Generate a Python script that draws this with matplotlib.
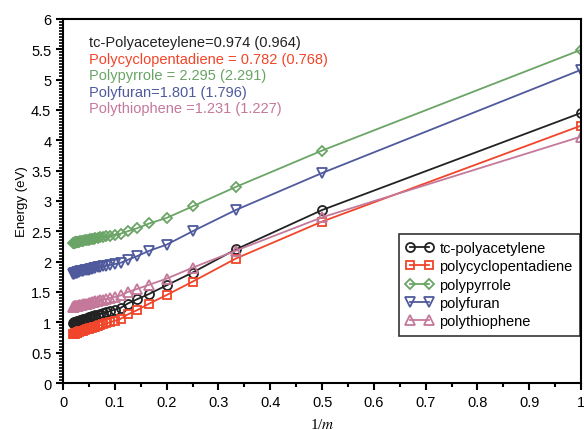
import numpy as np
import matplotlib
matplotlib.use("Agg")
import matplotlib.pyplot as plt
from matplotlib.ticker import MultipleLocator, FuncFormatter

plt.rcParams['font.family'] = ['Liberation Sans', 'DejaVu Sans']
plt.rcParams['mathtext.fontset'] = 'stix'

# chain length m (x axis is 1/m)
m = [1, 2, 3, 4, 5, 6, 7, 8, 9, 10, 11, 12, 13, 14, 15, 16, 17, 18, 19, 20,
     22, 24, 26, 28, 30, 32, 34, 36, 38, 40, 42, 44, 46, 48, 50]

acetylene = [4.45, 2.85, 2.20, 1.82, 1.61, 1.47, 1.38, 1.31, 1.238, 1.209,
             1.186, 1.166, 1.150, 1.137, 1.125, 1.115, 1.106, 1.098, 1.091, 1.080,
             1.069, 1.060, 1.051, 1.043, 1.036, 1.029, 1.023, 1.018, 1.013, 1.009,
             1.005, 1.001, 0.998, 0.995, 0.992]
cyclopentadiene = [4.24, 2.66, 2.05, 1.67, 1.45, 1.31, 1.20, 1.13, 1.057, 1.026,
                   1.002, 0.982, 0.965, 0.952, 0.939, 0.929, 0.919, 0.911, 0.902, 0.893,
                   0.882, 0.873, 0.863, 0.856, 0.849, 0.843, 0.837, 0.831, 0.827, 0.823,
                   0.819, 0.815, 0.813, 0.810, 0.807]
pyrrole = [5.49, 3.83, 3.23, 2.91, 2.72, 2.63, 2.55, 2.50, 2.461, 2.443,
           2.429, 2.416, 2.406, 2.398, 2.390, 2.384, 2.378, 2.372, 2.367, 2.362,
           2.356, 2.350, 2.344, 2.339, 2.335, 2.331, 2.327, 2.325, 2.322, 2.319,
           2.317, 2.315, 2.313, 2.311, 2.309]
furan = [5.16, 3.46, 2.85, 2.50, 2.28, 2.18, 2.09, 2.03, 1.981, 1.961,
         1.945, 1.932, 1.921, 1.912, 1.904, 1.897, 1.891, 1.885, 1.878, 1.870,
         1.863, 1.857, 1.850, 1.843, 1.838, 1.831, 1.827, 1.823, 1.818, 1.815,
         1.812, 1.808, 1.805, 1.803, 1.800]
thiophene = [4.06, 2.73, 2.18, 1.90, 1.72, 1.62, 1.55, 1.50, 1.442, 1.419,
             1.401, 1.385, 1.372, 1.361, 1.352, 1.344, 1.337, 1.330, 1.324, 1.318,
             1.310, 1.303, 1.296, 1.290, 1.286, 1.281, 1.277, 1.274, 1.272, 1.268,
             1.266, 1.263, 1.262, 1.260, 1.257]

names = ['tc-polyacetylene', 'polycyclopentadiene', 'polypyrrole', 'polyfuran', 'polythiophene']
notes = ['tc-Polyaceteylene=0.974 (0.964)',
         'Polycyclopentadiene = 0.782 (0.768)',
         'Polypyrrole = 2.295 (2.291)',
         'Polyfuran=1.801 (1.796)',
         'Polythiophene =1.231 (1.227)']
colors = ['#222222', '#f0452a', '#6aa466', '#4f5a9c', '#c4789a']
markers = ['o', 's', 'D', 'v', '^']
sizes = [6.5, 6, 5.5, 7, 7]

x = 1.0 / np.array(m)

fig = plt.figure(figsize=(5.84, 4.31), dpi=100)
ax = fig.add_axes([0.108, 0.109, 0.887, 0.845])

for y, name, c, mk, ms in zip([acetylene, cyclopentadiene, pyrrole, furan, thiophene],
                              names, colors, markers, sizes):
    ax.plot(x, y, color=c, marker=mk, ms=ms, mfc='none', mec=c, mew=1.3,
            lw=1.3, label=name)

for i, (t, c) in enumerate(zip(notes, colors)):
    ax.text(0.05, 0.935 - i * 0.045, t, color=c, fontsize=10.5,
            transform=ax.transAxes, va='center')


def fmt(v, p):
    if abs(v) < 1e-9:
        return '0'
    return ('%.1f' % v).rstrip('0').rstrip('.')


ax.set_xlim(0, 1)
ax.set_ylim(0, 6)
ax.xaxis.set_major_locator(MultipleLocator(0.1))
ax.xaxis.set_minor_locator(MultipleLocator(0.05))
ax.yaxis.set_major_locator(MultipleLocator(0.5))
ax.yaxis.set_minor_locator(MultipleLocator(0.05))
ax.xaxis.set_major_formatter(FuncFormatter(fmt))
ax.yaxis.set_major_formatter(FuncFormatter(fmt))
ax.tick_params(axis='both', which='major', direction='out', length=5, width=1.5, labelsize=10.5)
ax.tick_params(axis='y', which='minor', direction='out', length=3, width=1.2)
ax.tick_params(axis='x', which='minor', direction='out', length=3, width=1.5)
for s in ax.spines.values():
    s.set_linewidth(1.5)

ax.set_ylabel('Energy (eV)', fontsize=9.5, labelpad=2)
ax.set_xlabel(r'1/$m$', fontsize=11, fontfamily='Liberation Serif', labelpad=6)

leg = ax.legend(loc='lower right', bbox_to_anchor=(0.998, 0.13), fontsize=10.5,
                frameon=True, fancybox=False, edgecolor='black', handlelength=1.9,
                numpoints=2, borderpad=0.5, labelspacing=0.3, handletextpad=0.4,
                borderaxespad=0)
leg.get_frame().set_linewidth(1.2)

fig.savefig('out.png', dpi=100)
